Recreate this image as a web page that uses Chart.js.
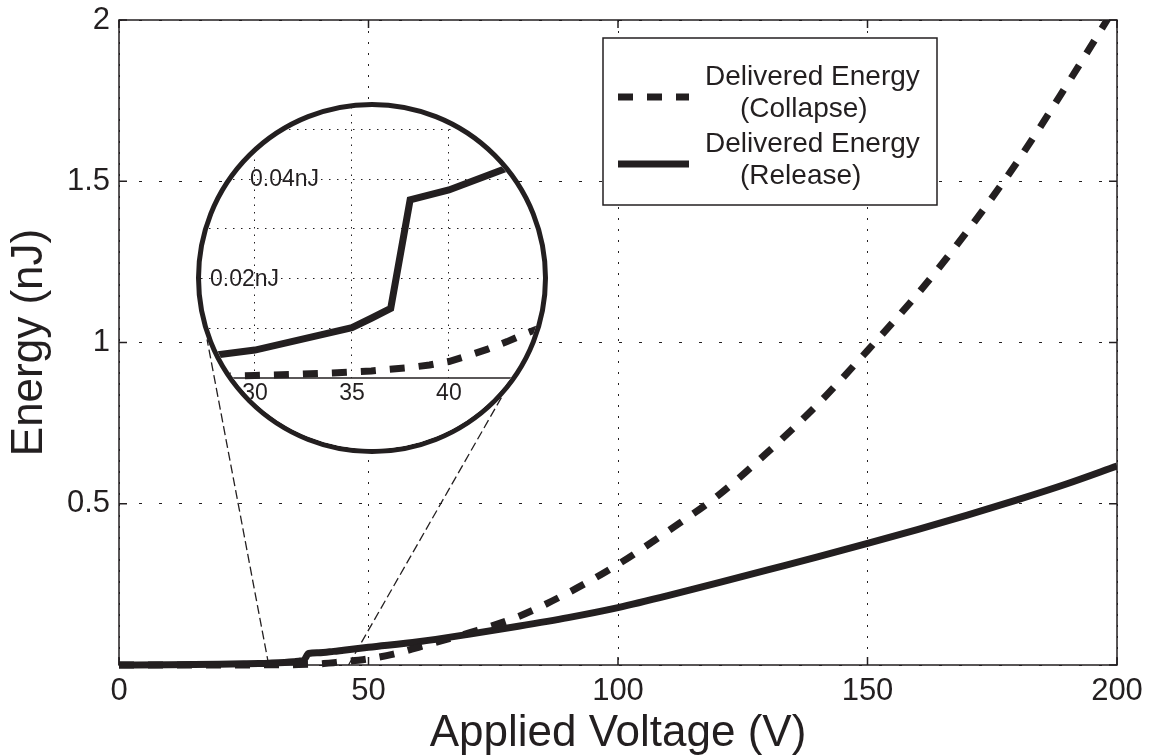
<!DOCTYPE html>
<html>
<head>
<meta charset="utf-8">
<title>Delivered Energy vs Applied Voltage</title>
<script src="https://cdn.jsdelivr.net/npm/chart.js@4.4.1/dist/chart.umd.min.js"></script>
<style>
  html, body { margin: 0; padding: 0; background: #fff; }
  #wrap { position: relative; width: 1149px; height: 756px; }
  #chart-energy { position: absolute; left: 0; top: 0; }
  #zoom { position: absolute; box-sizing: border-box; border: 5px solid #231f20; border-radius: 50%; overflow: hidden; background: #fff; }
  #chart-zoom { display: block; }
</style>
</head>
<body>
<div id="wrap">
  <canvas id="chart-energy" width="1149" height="756"></canvas>
  <div id="zoom"><canvas id="chart-zoom"></canvas></div>
</div>
<script>
// energy delivered per cycle (nJ) against applied voltage (V)
const collapseVoltage = [0, 10, 20, 25, 28, 30, 32, 34, 36, 38, 39, 40, 41, 42, 43, 44, 45, 48, 50, 55,
    60, 70, 80, 90, 100, 110, 120, 130, 140, 150, 160, 170, 180, 190, 200];
const collapseEnergy = [0, 0, 0, 0.0001, 0.0003, 0.0005, 0.0007, 0.001, 0.0014, 0.0021, 0.0026, 0.0033, 0.0045, 0.0058, 0.0073, 0.009, 0.0105, 0.015, 0.019, 0.034,
    0.055, 0.099, 0.15, 0.224, 0.312, 0.415, 0.525, 0.66, 0.808, 0.975, 1.15, 1.345, 1.56, 1.8, 2.05];

const releaseVoltage = [0, 10, 20, 25, 28, 30, 35, 36, 37, 38, 40, 43, 45, 50,
    60, 70, 80, 90, 100, 110, 120, 130, 140, 150, 160, 170, 180, 190, 200];
const releaseEnergy = [0, 0.0008, 0.0025, 0.0037, 0.0046, 0.0056, 0.0101, 0.012, 0.014, 0.0358, 0.0378, 0.0422, 0.046, 0.055,
    0.072, 0.095, 0.12, 0.147, 0.178, 0.215, 0.255, 0.295, 0.335, 0.377, 0.42, 0.465, 0.512, 0.562, 0.617];

const seriesNames = [['Delivered Energy', '(Collapse)'], ['Delivered Energy', '(Release)']];

const voltageTicks = [0, 50, 100, 150, 200];
const energyTicks = [0, 0.5, 1, 1.5, 2];

// close-up of the pull-in region
const zoomVoltageTicks = [30, 35, 40];
const zoomEnergyGrid = [0.01, 0.02, 0.03, 0.04, 0.05];
const zoomEnergyLabels = [0.02, 0.04];
const zoomSpan = [30, 46];

const ink = '#231f20';
const fontFamily = '"Liberation Sans", Arial, Helvetica, sans-serif';

// circle placement on the page
const ZOOM = { left: 196, top: 102, size: 352, border: 5 };
const zoomCx = ZOOM.left + ZOOM.size / 2;
const zoomCy = ZOOM.top + ZOOM.size / 2;
const zoomR = ZOOM.size / 2;

const toPoints = (xs, ys) => xs.map((x, i) => ({ x: x, y: ys[i] }));

const makeDatasets = (smooth) => [
    {
        label: seriesNames[0].join(' '),
        data: toPoints(collapseVoltage, collapseEnergy),
        borderColor: ink,
        borderWidth: 7,
        borderDash: [15, 14],
        borderCapStyle: 'butt',
        pointRadius: 0,
        fill: false,
        cubicInterpolationMode: smooth ? 'monotone' : 'default',
        clip: smooth ? { left: 8, top: 0, right: 0, bottom: 8 } : false,
    },
    {
        label: seriesNames[1].join(' '),
        data: toPoints(releaseVoltage, releaseEnergy),
        borderColor: ink,
        borderWidth: 7,
        borderCapStyle: 'butt',
        pointRadius: 0,
        fill: false,
        cubicInterpolationMode: smooth ? 'monotone' : 'default',
        clip: smooth ? { left: 8, top: 0, right: 0, bottom: 8 } : false,
    }
];

// box around the plot, inward ticks and the guide lines to the circle
const frame = {
    id: 'frame',
    beforeDatasetsDraw(chart) {
        const { ctx, chartArea: a, scales: { x, y } } = chart;
        ctx.save();
        ctx.strokeStyle = ink;
        ctx.lineWidth = 1.5;
        ctx.strokeRect(a.left, a.top, a.right - a.left, a.bottom - a.top);
        ctx.beginPath();
        voltageTicks.forEach(v => {
            const px = x.getPixelForValue(v);
            ctx.moveTo(px, a.bottom); ctx.lineTo(px, a.bottom - 8);
            ctx.moveTo(px, a.top); ctx.lineTo(px, a.top + 8);
        });
        energyTicks.forEach(v => {
            const py = y.getPixelForValue(v);
            ctx.moveTo(a.left, py); ctx.lineTo(a.left + 8, py);
            ctx.moveTo(a.right, py); ctx.lineTo(a.right - 8, py);
        });
        ctx.stroke();

        // dashed guides from the axis to the edge of the close-up
        const ends = [159.6, 42.5].map(d => d * Math.PI / 180);
        ctx.lineWidth = 1.3;
        ctx.setLineDash([9, 4]);
        ctx.beginPath();
        zoomSpan.forEach((v, i) => {
            ctx.moveTo(x.getPixelForValue(v), y.getPixelForValue(0));
            ctx.lineTo(zoomCx + zoomR * Math.cos(ends[i]), zoomCy + zoomR * Math.sin(ends[i]));
        });
        ctx.stroke();
        ctx.restore();
    }
};

const legendBox = {
    id: 'legendBox',
    afterDraw(chart) {
        const { ctx, chartArea: a } = chart;
        const L = a.left + 484, T = a.top + 18, W = 334, H = 167;
        ctx.save();
        ctx.fillStyle = '#fff';
        ctx.fillRect(L, T, W, H);
        ctx.strokeStyle = ink;
        ctx.lineWidth = 1.5;
        ctx.strokeRect(L, T, W, H);

        const rows = [T + 59, T + 126];
        chart.data.datasets.forEach((ds, i) => {
            ctx.beginPath();
            ctx.lineWidth = ds.borderWidth;
            ctx.lineCap = 'butt';
            ctx.setLineDash(ds.borderDash || []);
            ctx.moveTo(L + 15, rows[i]);
            ctx.lineTo(L + 86, rows[i]);
            ctx.stroke();
        });
        ctx.setLineDash([]);
        ctx.fillStyle = ink;
        ctx.font = '28px ' + fontFamily;
        ctx.textBaseline = 'alphabetic';
        ctx.textAlign = 'left';
        seriesNames.forEach((lines, i) => {
            ctx.fillText(lines[0], L + 102, rows[i] - 12);
            ctx.fillText(lines[1], L + 137, rows[i] + 20);
        });
        ctx.restore();
    }
};

const energyChart = new Chart(document.getElementById('chart-energy'), {
    type: 'line',
    data: { datasets: makeDatasets(true) },
    options: {
        responsive: false,
        animation: false,
        events: [],
        layout: { padding: { top: 20, right: 32, bottom: 0, left: 0 } },
        plugins: { legend: { display: false }, tooltip: { enabled: false } },
        scales: {
            x: {
                type: 'linear',
                min: 0,
                max: 200,
                afterBuildTicks: s => { s.ticks = voltageTicks.map(v => ({ value: v })); },
                afterFit: s => { s.height = 91; },
                grid: { color: ink, lineWidth: 1, drawTicks: false },
                border: { display: false, dash: [2, 9] },
                ticks: {
                    color: ink,
                    font: { family: fontFamily, size: 31, lineHeight: 1.6 },
                    padding: 2,
                    autoSkip: false,
                    maxRotation: 0
                },
                title: {
                    display: true,
                    text: 'Applied Voltage (V)',
                    color: ink,
                    font: { family: fontFamily, size: 44, lineHeight: 1 },
                    padding: { top: 0, bottom: 0 }
                }
            },
            y: {
                type: 'linear',
                min: 0,
                max: 2,
                afterBuildTicks: s => { s.ticks = energyTicks.map(v => ({ value: v })); },
                afterFit: s => { s.width = 119; },
                grid: { color: ink, lineWidth: 1, drawTicks: false },
                border: { display: false, dash: [3, 17] },
                ticks: {
                    color: ink,
                    font: { family: fontFamily, size: 31, lineHeight: 0.7 },
                    padding: 9,
                    callback: v => v === 0 ? '' : String(v)
                },
                title: {
                    display: true,
                    text: 'Energy (nJ)',
                    color: ink,
                    font: { family: fontFamily, size: 44, lineHeight: 1 },
                    padding: { top: 8, bottom: 0 }
                }
            }
        }
    },
    plugins: [frame, legendBox]
});

// close-up: axis at zero, tick numbers and nJ labels drawn by hand
const zoomAxis = {
    id: 'zoomAxis',
    beforeDatasetsDraw(chart) {
        const { ctx, chartArea: a, scales: { x, y } } = chart;
        const y0 = y.getPixelForValue(0);
        ctx.save();
        ctx.fillStyle = '#fff';
        ctx.fillRect(a.left, y0, a.right - a.left, a.bottom - y0);
        ctx.strokeStyle = ink;
        ctx.lineWidth = 1.5;
        ctx.beginPath();
        ctx.moveTo(a.left, y0);
        ctx.lineTo(a.right, y0);
        ctx.stroke();

        ctx.fillStyle = ink;
        ctx.font = '23px ' + fontFamily;
        ctx.textAlign = 'center';
        ctx.textBaseline = 'middle';
        zoomVoltageTicks.forEach(v => ctx.fillText(String(v), x.getPixelForValue(v), y0 + 16));

        const labelLeft = [9, 49];
        ctx.textAlign = 'left';
        zoomEnergyLabels.forEach((v, i) => ctx.fillText(v.toFixed(2) + 'nJ', a.left + labelLeft[i], y.getPixelForValue(v) + 1));
        ctx.restore();
    }
};

const zoomBox = document.getElementById('zoom');
zoomBox.style.left = ZOOM.left + 'px';
zoomBox.style.top = ZOOM.top + 'px';
zoomBox.style.width = ZOOM.size + 'px';
zoomBox.style.height = ZOOM.size + 'px';
const zoomCanvas = document.getElementById('chart-zoom');
zoomCanvas.width = ZOOM.size - 2 * ZOOM.border;
zoomCanvas.height = ZOOM.size - 2 * ZOOM.border;

const zoomChart = new Chart(zoomCanvas, {
    type: 'line',
    data: { datasets: makeDatasets(false) },
    options: {
        responsive: false,
        animation: false,
        events: [],
        layout: { padding: 0, autoPadding: false },
        plugins: { legend: { display: false }, tooltip: { enabled: false } },
        scales: {
            x: {
                type: 'linear',
                min: 27.22,
                max: 44.85,
                afterBuildTicks: s => { s.ticks = zoomVoltageTicks.map(v => ({ value: v })); },
                afterFit: s => { s.height = 0; },
                ticks: { display: false },
                grid: { color: ink, lineWidth: 1, drawTicks: false },
                border: { display: false, dash: [1.5, 6] }
            },
            y: {
                type: 'linear',
                min: -0.0143,
                max: 0.0545,
                afterBuildTicks: s => { s.ticks = zoomEnergyGrid.map(v => ({ value: v })); },
                afterFit: s => { s.width = 0; },
                ticks: { display: false },
                grid: { color: ink, lineWidth: 1, drawTicks: false },
                border: { display: false, dash: [1.5, 6.5] }
            }
        }
    },
    plugins: [zoomAxis]
});
</script>
</body>
</html>
